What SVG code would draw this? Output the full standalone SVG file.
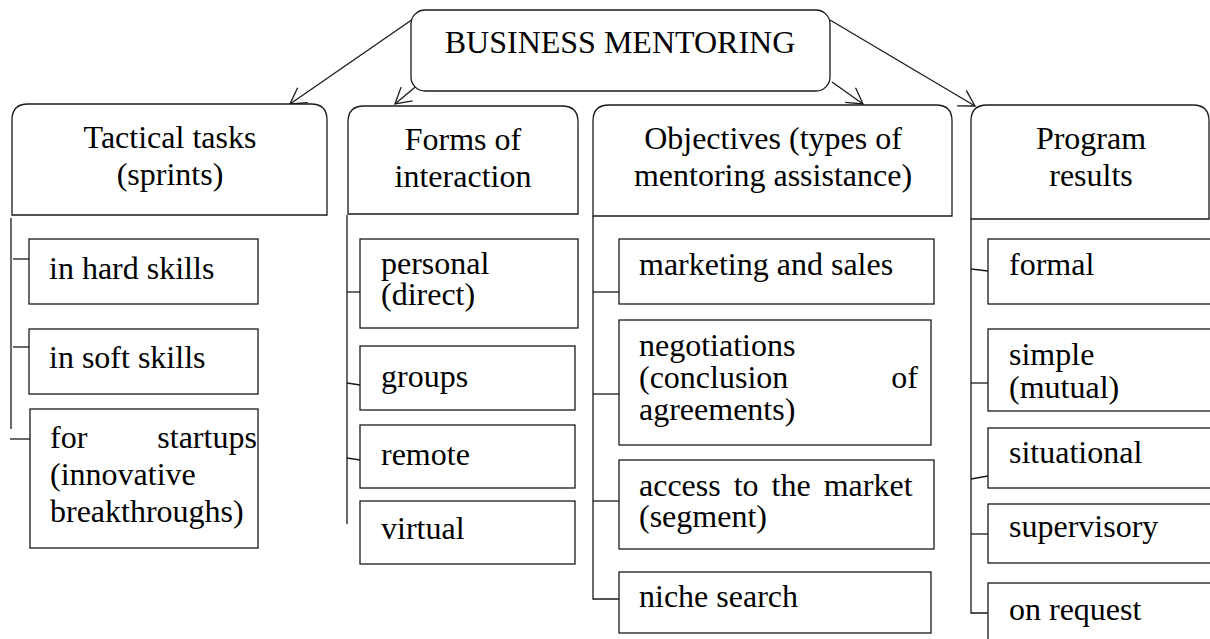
<svg xmlns="http://www.w3.org/2000/svg" width="1210" height="639" viewBox="0 0 1210 639" font-family="'Liberation Serif', 'Times New Roman', 'DejaVu Serif', serif">
<style>
.box{fill:#fff;stroke:#1a1a1a;stroke-width:1.3}
.ln{fill:none;stroke:#1a1a1a;stroke-width:1.3}
.t{font-family:'Liberation Serif','Times New Roman','DejaVu Serif',serif;font-size:32px;fill:#000}
.c{text-anchor:middle}
</style>
<defs>
<marker id="ah" markerUnits="userSpaceOnUse" markerWidth="20" markerHeight="22" refX="16" refY="9.5" orient="auto" overflow="visible">
<path d="M0.5,0.5 L16,9.5 L0.5,18.5" fill="none" stroke="#1a1a1a" stroke-width="1.3"/>
</marker>
</defs>
<rect width="1210" height="639" fill="#fff"/>

<g id="connectors">
<line class="ln" x1="413" y1="19" x2="290" y2="104" marker-end="url(#ah)"/>
<line class="ln" x1="420" y1="83" x2="395" y2="104" marker-end="url(#ah)"/>
<line class="ln" x1="832" y1="82" x2="863" y2="104" marker-end="url(#ah)"/>
<line class="ln" x1="830" y1="20" x2="975" y2="106" marker-end="url(#ah)"/>
<line class="ln" x1="11" y1="218" x2="11" y2="429"/>
<line class="ln" x1="13" y1="259" x2="29" y2="259"/>
<line class="ln" x1="13" y1="347" x2="29" y2="347"/>
<line class="ln" x1="10" y1="439" x2="30" y2="439"/>
<line class="ln" x1="347" y1="215" x2="347" y2="524"/>
<line class="ln" x1="347" y1="292" x2="360" y2="292"/>
<line class="ln" x1="347" y1="383" x2="360" y2="385"/>
<line class="ln" x1="347" y1="458" x2="360" y2="460"/>
<polyline class="ln" points="593,216 593,599 619,599"/>
<line class="ln" x1="593" y1="292" x2="619" y2="292"/>
<line class="ln" x1="593" y1="394" x2="619" y2="394"/>
<line class="ln" x1="593" y1="501" x2="619" y2="501"/>
<polyline class="ln" points="971,219 971,613 988,613"/>
<line class="ln" x1="971" y1="269" x2="988" y2="271"/>
<line class="ln" x1="971" y1="383" x2="988" y2="383"/>
<line class="ln" x1="971" y1="479" x2="988" y2="476"/>
<line class="ln" x1="971" y1="534" x2="988" y2="534"/>
</g>

<g id="root">
<rect class="box" x="411" y="10" width="419" height="81" rx="14"/>
<text class="t c" x="620" y="53">BUSINESS MENTORING</text>
</g>

<g id="h-tactical">
<path class="box" d="M12,215 V120 Q12,104 28,104 H311 Q327,104 327,120 V215 Z"/>
<text class="t c"><tspan x="170" y="148">Tactical tasks</tspan><tspan x="170" y="185">(sprints)</tspan></text>
</g>
<g id="h-forms">
<path class="box" d="M348,214 V122 Q348,106 364,106 H562 Q578,106 578,122 V214 Z"/>
<text class="t c"><tspan x="463" y="150">Forms of</tspan><tspan x="463" y="187">interaction</tspan></text>
</g>
<g id="h-objectives">
<path class="box" d="M593,216 V121 Q593,105 609,105 H936 Q952,105 952,121 V216 Z"/>
<text class="t c"><tspan x="773" y="149">Objectives (types of</tspan><tspan x="773" y="186">mentoring assistance)</tspan></text>
</g>
<g id="h-results">
<path class="box" d="M971,219 V121 Q971,105 987,105 H1193 Q1209,105 1209,121 V219 Z"/>
<text class="t c"><tspan x="1091" y="149">Program</tspan><tspan x="1091" y="186">results</tspan></text>
</g>

<g id="n-hard">
<rect class="box" x="29" y="239" width="229" height="65"/>
<text class="t" x="49" y="279">in hard skills</text>
</g>
<g id="n-soft">
<rect class="box" x="29" y="329" width="229" height="65"/>
<text class="t" x="49" y="368">in soft skills</text>
</g>
<g id="n-startups">
<rect class="box" x="30" y="409" width="228" height="139"/>
<text class="t"><tspan x="50" y="448" word-spacing="62">for startups</tspan><tspan x="50" y="485">(innovative</tspan><tspan x="50" y="522">breakthroughs)</tspan></text>
</g>

<g id="n-personal">
<rect class="box" x="360" y="239" width="218" height="89"/>
<text class="t"><tspan x="381" y="274">personal</tspan><tspan x="381" y="305">(direct)</tspan></text>
</g>
<g id="n-groups">
<rect class="box" x="360" y="346" width="215" height="64"/>
<text class="t" x="381" y="387">groups</text>
</g>
<g id="n-remote">
<rect class="box" x="360" y="425" width="215" height="63"/>
<text class="t" x="381" y="465">remote</text>
</g>
<g id="n-virtual">
<rect class="box" x="360" y="501" width="215" height="63"/>
<text class="t" x="381" y="539">virtual</text>
</g>

<g id="n-marketing">
<rect class="box" x="619" y="239" width="315" height="65"/>
<text class="t" x="639" y="275">marketing and sales</text>
</g>
<g id="n-negotiations">
<rect class="box" x="619" y="320" width="312" height="125"/>
<text class="t"><tspan x="639" y="356">negotiations</tspan><tspan x="639" y="388" word-spacing="95">(conclusion of</tspan><tspan x="639" y="420">agreements)</tspan></text>
</g>
<g id="n-access">
<rect class="box" x="619" y="460" width="315" height="89"/>
<text class="t"><tspan x="639" y="496" word-spacing="5">access to the market</tspan><tspan x="639" y="527">(segment)</tspan></text>
</g>
<g id="n-niche">
<rect class="box" x="619" y="572" width="312" height="61"/>
<text class="t" x="639" y="607">niche search</text>
</g>

<g id="n-formal">
<rect class="box" x="988" y="239" width="230" height="65"/>
<text class="t" x="1009" y="275">formal</text>
</g>
<g id="n-simple">
<rect class="box" x="988" y="329" width="230" height="82"/>
<text class="t"><tspan x="1009" y="365">simple</tspan><tspan x="1009" y="398">(mutual)</tspan></text>
</g>
<g id="n-situational">
<rect class="box" x="988" y="428" width="230" height="60"/>
<text class="t" x="1009" y="463">situational</text>
</g>
<g id="n-supervisory">
<rect class="box" x="988" y="504" width="230" height="59"/>
<text class="t" x="1009" y="537">supervisory</text>
</g>
<g id="n-onrequest">
<rect class="box" x="988" y="583" width="230" height="70"/>
<text class="t" x="1009" y="620">on request</text>
</g>
</svg>
